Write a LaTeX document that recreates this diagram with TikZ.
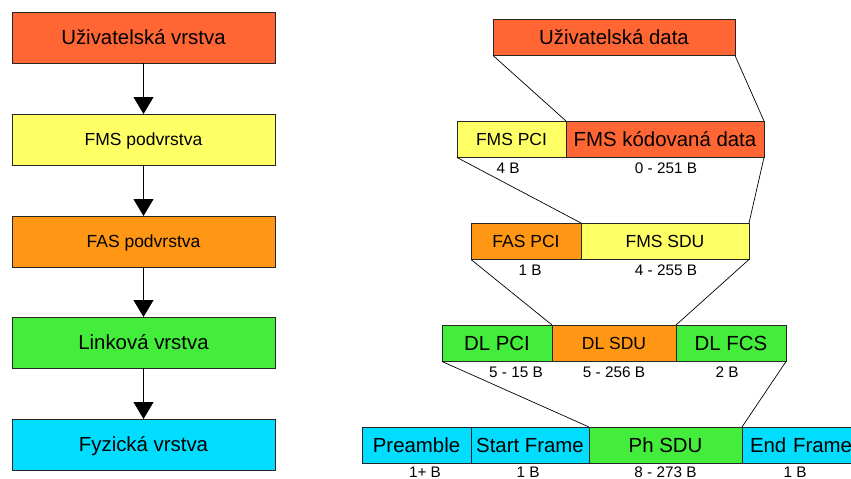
\documentclass[tikz,border=0pt]{standalone}
\usepackage{fontspec}
\setmainfont{Liberation Sans}
\usetikzlibrary{arrows.meta}

\definecolor{cRed}{RGB}{255,102,51}
\definecolor{cYellow}{RGB}{255,255,102}
\definecolor{cOrange}{RGB}{255,150,20}
\definecolor{cGreen}{RGB}{68,236,60}
\definecolor{cCyan}{RGB}{0,221,255}

\tikzset{
  cell/.style={draw=black!85, line width=0.8pt, rectangle, inner sep=0pt, outer sep=0pt,
    anchor=north west, align=center},
  big/.style={font=\fontsize{20.4}{24}\selectfont, text height=14.6pt, text depth=0pt},
  mid/.style={font=\fontsize{17.5}{21}\selectfont, text height=12.5pt, text depth=0pt},
  size/.style={font=\fontsize{15.3}{18}\selectfont, inner sep=0pt, text height=11pt, text depth=0pt},
  flow/.style={draw=black, line width=0.8pt, -{Triangle[width=20pt,length=17pt]}},
  link/.style={draw=black, line width=0.7pt},
}

\begin{document}
\begin{tikzpicture}[x=1pt, y=-1pt]
\useasboundingbox (0,0) rectangle (851,479);

% ---- layer stack (left) ----
\node[cell, big, fill=cRed,    minimum width=263pt, minimum height=51pt] (l1) at (12,12)  {Uživatelská vrstva};
\node[cell, mid, fill=cYellow, minimum width=263pt, minimum height=51pt] (l2) at (12,114) {FMS podvrstva};
\node[cell, mid, fill=cOrange, minimum width=263pt, minimum height=51pt] (l3) at (12,216) {FAS podvrstva};
\node[cell, big, fill=cGreen,  minimum width=263pt, minimum height=51pt] (l4) at (12,317) {Linková vrstva};
\node[cell, big, fill=cCyan,   minimum width=263pt, minimum height=51pt] (l5) at (12,419) {Fyzická vrstva};

\draw[flow] (l1.south) -- (l2.north);
\draw[flow] (l2.south) -- (l3.north);
\draw[flow] (l3.south) -- (l4.north);
\draw[flow] (l4.south) -- (l5.north);

% ---- frame encapsulation (right) ----
\node[cell, big, fill=cRed, minimum width=242pt, minimum height=36.5pt] (ud) at (493,19) {Uživatelská data};

% FMS level
\node[cell, mid, fill=cYellow, minimum width=109pt, minimum height=36.5pt] (fmspci)  at (457,121) {FMS PCI};
\node[cell, big, fill=cRed,    minimum width=198pt, minimum height=36.5pt] (fmsdata) at (566,121) {FMS kódovaná data};

% FAS level
\node[cell, mid, fill=cOrange, minimum width=110pt, minimum height=36.5pt] (faspci) at (471,223) {FAS PCI};
\node[cell, mid, fill=cYellow, minimum width=168pt, minimum height=36.5pt] (fmssdu) at (581,223) {FMS SDU};

% Data link level
\node[cell, big, fill=cGreen,  minimum width=110pt, minimum height=36.5pt] (dlpci) at (442,325) {DL PCI};
\node[cell, mid, fill=cOrange, minimum width=124pt, minimum height=36.5pt] (dlsdu) at (552,325) {DL SDU};
\node[cell, big, fill=cGreen,  minimum width=110pt, minimum height=36.5pt] (dlfcs) at (676,325) {DL FCS};

% Physical level
\node[cell, big, fill=cCyan,  minimum width=109pt, minimum height=36.5pt] (pre)   at (362,427) {Preamble};
\node[cell, big, fill=cCyan,  minimum width=118pt, minimum height=36.5pt] (sf)    at (471,427) {Start Frame};
\node[cell, big, fill=cGreen, minimum width=153pt, minimum height=36.5pt] (phsdu) at (589,427) {Ph SDU};
\node[cell, big, fill=cCyan,  minimum width=120pt, minimum height=36.5pt, text width=104pt, align=left] (ef) at (742,427) {End Frame};

% encapsulation lines
\draw[link] (ud.south west) -- (fmsdata.north west);
\draw[link] (ud.south east) -- (fmsdata.north east);
\draw[link] (fmspci.south west) -- (fmssdu.north west);
\draw[link] (fmsdata.south east) -- (fmssdu.north east);
\draw[link] (faspci.south west) -- (dlsdu.north west);
\draw[link] (fmssdu.south east) -- (dlsdu.north east);
\draw[link] (dlpci.south west) -- (phsdu.north west);
\draw[link] (dlfcs.south east) -- (phsdu.north east);

% field sizes
\node[size] (s1)  at (508,168)   {4 B};
\node[size] (s2)  at (666,168)   {0 - 251 B};
\node[size] (s3)  at (530,270)   {1 B};
\node[size] (s4)  at (666,270)   {4 - 255 B};
\node[size] (s5)  at (516,372)   {5 - 15 B};
\node[size] (s6)  at (614,372)   {5 - 256 B};
\node[size] (s7)  at (727,372)   {2 B};
\node[size] (s8)  at (425,472) {1+ B};
\node[size] (s9)  at (528,472) {1 B};
\node[size] (s10) at (665.5,472) {8 - 273 B};
\node[size] (s11) at (795,472) {1 B};
\end{tikzpicture}
\end{document}
